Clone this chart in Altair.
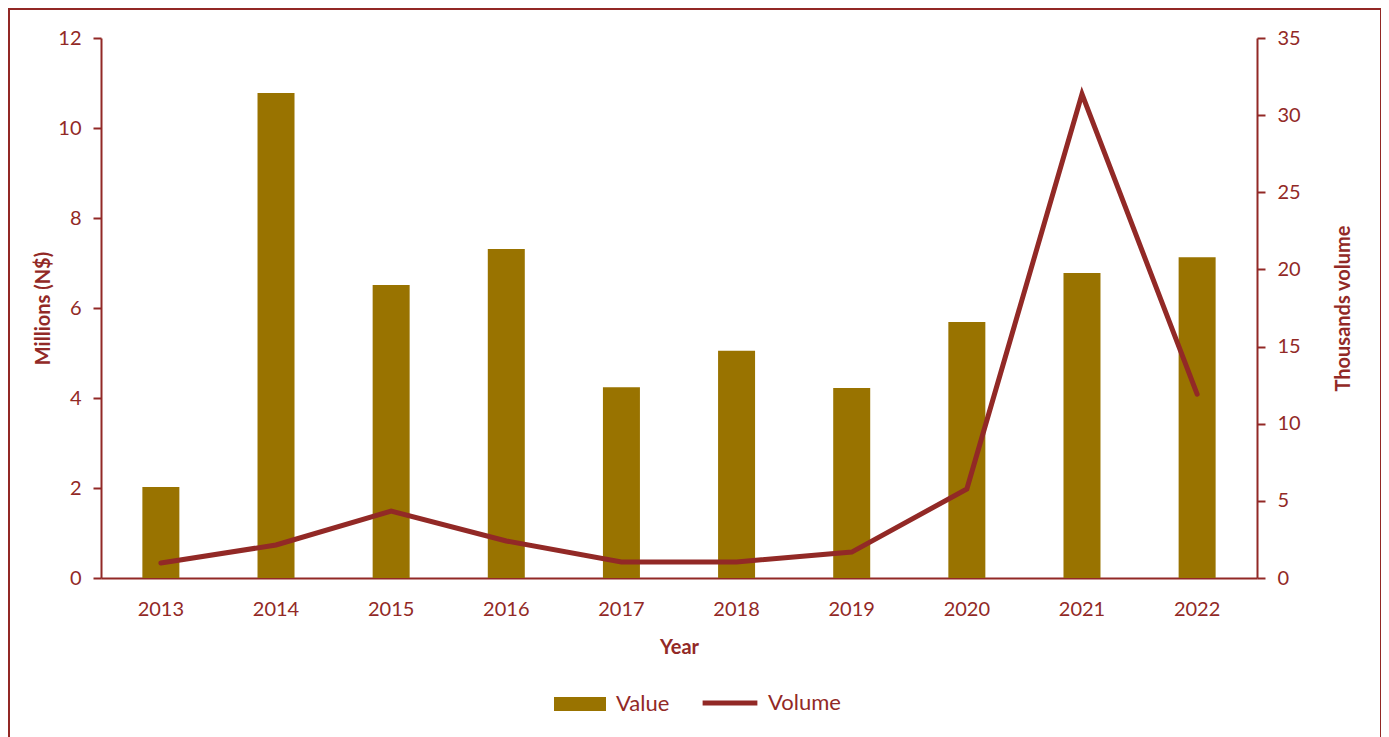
import altair as alt
import pandas as pd

years = ["2013", "2014", "2015", "2016", "2017", "2018", "2019", "2020", "2021", "2022"]
value_millions = [2.02, 10.78, 6.51, 7.31, 4.24, 5.05, 4.22, 5.69, 6.78, 7.13]
volume_thousands = [0.97, 2.14, 4.34, 2.40, 1.04, 1.04, 1.68, 5.77, 31.37, 11.92]

RED = "#922926"
GOLD = "#997300"
FONT = "Lato"

df = pd.DataFrame({
    "Year": years,
    "Value": value_millions,
    "Volume": volume_thousands,
    "s1": ["Value"] * len(years),
    "s2": ["Volume"] * len(years),
})

W, H = 1156, 540

xenc = alt.X(
    "Year:N",
    sort=years,
    scale=alt.Scale(paddingInner=0.68, paddingOuter=0.36),
    axis=alt.Axis(
        title="Year", labelAngle=0, ticks=False, labelPadding=21,
        titlePadding=18, domainColor=RED, domainWidth=2,
    ),
)

bars = alt.Chart(df).mark_bar(size=37).encode(
    x=xenc,
    y=alt.Y(
        "Value:Q",
        scale=alt.Scale(domain=[0, 12]),
        axis=alt.Axis(
            title="Millions (N$)", orient="left", values=[0, 2, 4, 6, 8, 10, 12],
            grid=False, domainColor=RED, domainWidth=2, tickColor=RED, tickWidth=2,
            tickSize=8, labelPadding=12, titlePadding=4,
        ),
    ),
    color=alt.Color(
        "s1:N",
        scale=alt.Scale(domain=["Value"], range=[GOLD]),
        legend=alt.Legend(
            title=None, orient="none", legendX=453, legendY=640,
            symbolType="M-1,-0.27 h2 v0.54 h-2 Z", symbolSize=2704,
            symbolStrokeWidth=0, labelOffset=10,
        ),
    ),
)

line = alt.Chart(df).mark_line(strokeWidth=5, strokeCap="round", strokeJoin="miter").encode(
    x=xenc,
    y=alt.Y(
        "Volume:Q",
        scale=alt.Scale(domain=[0, 35]),
        axis=alt.Axis(
            title="Thousands volume", orient="right", values=[0, 5, 10, 15, 20, 25, 30, 35],
            grid=False, domainColor=RED, domainWidth=2, tickColor=RED, tickWidth=2,
            tickSize=8, labelPadding=12, titlePadding=53, titleAngle=270,
        ),
    ),
    color=alt.Color(
        "s2:N",
        scale=alt.Scale(domain=["Volume"], range=[RED]),
        legend=alt.Legend(
            title=None, orient="none", legendX=599, legendY=635,
            symbolType="stroke", symbolSize=3000, symbolStrokeWidth=5,
            labelOffset=8,
        ),
    ),
)

frame = alt.Chart(df).mark_rect(fill=None, stroke=RED, strokeWidth=1.5).encode(
    x=alt.value(-92), x2=alt.value(1280), y=alt.value(-29), y2=alt.value(730),
)

chart = alt.layer(frame, bars, line).resolve_scale(
    y="independent", color="independent"
).properties(
    width=W, height=H,
    autosize=alt.AutoSizeParams(type="none"),
    padding={"left": 93, "top": 30, "right": 124, "bottom": 160},
).configure_view(
    stroke=None
).configure_axis(
    labelFont=FONT, titleFont=FONT, labelColor=RED, titleColor=RED,
    labelFontSize=20, titleFontSize=20, titleFontWeight="bold",
).configure_legend(
    labelFont=FONT, labelColor=RED, labelFontSize=22,
)

chart.save("out.html", embed_options={"renderer": "svg", "actions": False})
